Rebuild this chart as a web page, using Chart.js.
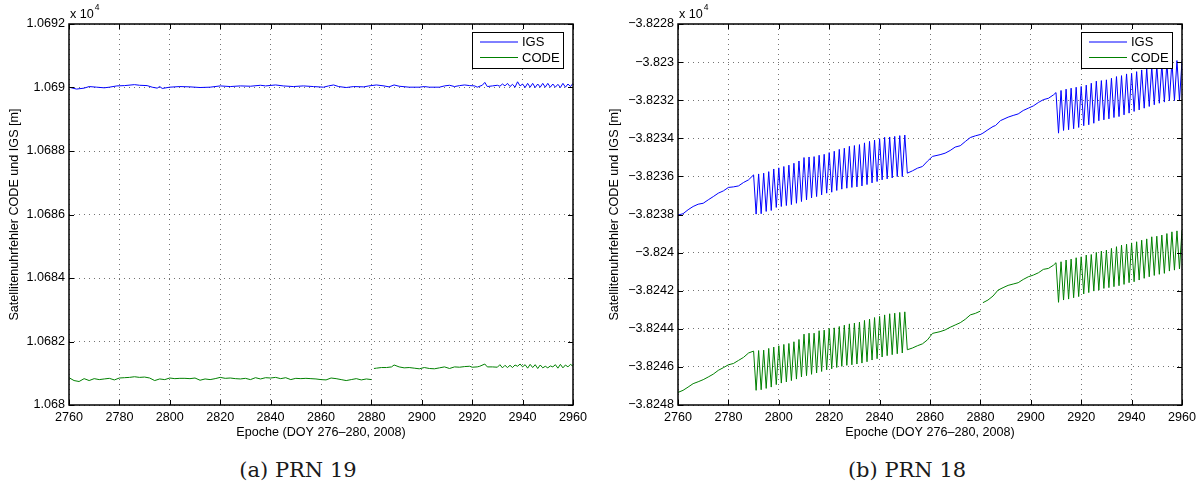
<!DOCTYPE html>
<html>
<head>
<meta charset="utf-8">
<script src="https://cdn.jsdelivr.net/npm/chart.js@4.4.1/dist/chart.umd.min.js"></script>
<style>
  body { margin: 0; background: #fff; }
  #wrap { position: relative; width: 1203px; height: 485px; overflow: hidden; }
  canvas { position: absolute; top: 0; }
  .caption {
    position: absolute; top: 457px; width: 600px; text-align: center;
    font-family: "DejaVu Serif", "Liberation Serif", serif; font-size: 21px; line-height: 26px; color: #1a1a1a;
  }
</style>
</head>
<body>
<div id="wrap">
  <canvas id="prn19" width="600" height="445" style="left:0"></canvas>
  <canvas id="prn18" width="603" height="445" style="left:600px"></canvas>
  <div class="caption" style="left:-2px">(a) PRN 19</div>
  <div class="caption" style="left:607px">(b) PRN 18</div>
</div>
<script>
// epochs (x) and clock errors in metres (y)
const xTicksMin = 2760, xTicksMax = 2960, xStep = 20;
const yTitle = "Satellitenuhrfehler CODE und IGS [m]";
const xTitle = "Epoche (DOY 276\u2013280, 2008)";

// PRN 19 - IGS
const prn19IgsEpochs = [2760, 2763, 2766, 2768, 2771, 2774, 2776, 2779, 2782, 2786, 2788, 2791, 2793, 2795, 2796, 2797,
  2800, 2804, 2808, 2812, 2816, 2820, 2824, 2828, 2832, 2836, 2838, 2842, 2845, 2849, 2853, 2857, 2861, 2863, 2865,
  2867, 2870, 2873, 2877, 2879, 2882, 2885, 2887, 2889, 2891, 2895, 2899, 2901, 2903, 2907, 2909, 2911, 2913, 2915,
  2917, 2919, 2921, 2922, 2924, 2925, 2926, 2928, 2930, 2931, 2932, 2933, 2934, 2935, 2936, 2937, 2938, 2939, 2940,
  2941, 2942, 2943, 2944, 2945, 2946, 2947, 2948, 2949, 2950, 2951, 2952, 2953, 2954, 2955, 2956, 2957, 2958, 2959, 2960];
const prn19IgsValues = [10690.01, 10689.95, 10689.98, 10690.03, 10690.01, 10689.99, 10690.01, 10690.05, 10690.06, 10690.09,
  10690.07, 10690.06, 10690.01, 10689.98, 10690.03, 10689.97, 10690.01, 10690.03, 10690.02, 10690.00, 10690.01, 10690.05,
  10690.03, 10690.05, 10690.04, 10690.07, 10690.05, 10690.08, 10690.05, 10690.03, 10690.05, 10690.03, 10690.01, 10690.05,
  10690.08, 10690.03, 10690.00, 10690.03, 10690.02, 10690.05, 10690.08, 10690.05, 10690.02, 10690.08, 10690.04, 10690.01,
  10690.01, 10690.03, 10690.01, 10690.01, 10690.05, 10690.07, 10690.03, 10690.06, 10690.08, 10690.06, 10690.05, 10690.01,
  10690.07, 10690.16, 10690.03, 10690.05, 10690.07, 10690.04, 10690.11, 10690.05, 10690.13, 10690.03, 10690.10, 10690.01,
  10690.18, 10690.05, 10690.11, 10690.00, 10690.13, 10690.01, 10690.13, 10690.00, 10690.11, 10690.01, 10690.13, 10690.01,
  10690.13, 10690.01, 10690.11, 10690.01, 10690.10, 10690.00, 10690.13, 10690.01, 10690.11, 10690.03, 10690.13];

// PRN 19 - CODE (gap after epoch 2880)
const prn19CodeEpochs = [2760, 2762, 2764, 2766, 2768, 2770, 2772, 2774, 2776, 2778, 2780, 2782, 2784, 2786, 2788, 2790,
  2792, 2794, 2796, 2798, 2800, 2802, 2804, 2806, 2808, 2810, 2812, 2814, 2816, 2818, 2820, 2822, 2824, 2826, 2828, 2830,
  2832, 2834, 2836, 2838, 2840, 2842, 2844, 2846, 2848, 2850, 2852, 2854, 2856, 2858, 2860, 2862, 2864, 2866, 2868, 2870,
  2872, 2874, 2876, 2878, 2880, 2880.5, 2881, 2882, 2884, 2886, 2888, 2889, 2891, 2893, 2895, 2897, 2899, 2901, 2903, 2905,
  2907, 2909, 2911, 2913, 2915, 2917, 2919, 2920, 2922, 2923, 2925, 2926, 2928, 2930, 2931, 2932, 2933, 2934, 2935, 2936,
  2937, 2938, 2939, 2940, 2941, 2942, 2943, 2944, 2945, 2946, 2947, 2948, 2949, 2950, 2951, 2952, 2953, 2954, 2955, 2956,
  2957, 2958, 2959, 2960];
const prn19CodeValues = [10680.86, 10680.77, 10680.74, 10680.83, 10680.77, 10680.83, 10680.80, 10680.82, 10680.84, 10680.79,
  10680.85, 10680.86, 10680.87, 10680.89, 10680.87, 10680.88, 10680.85, 10680.77, 10680.82, 10680.80, 10680.85, 10680.83,
  10680.84, 10680.84, 10680.83, 10680.85, 10680.78, 10680.82, 10680.80, 10680.83, 10680.87, 10680.84, 10680.85, 10680.83,
  10680.82, 10680.84, 10680.80, 10680.86, 10680.82, 10680.86, 10680.85, 10680.87, 10680.83, 10680.86, 10680.80, 10680.84,
  10680.83, 10680.84, 10680.83, 10680.82, 10680.80, 10680.79, 10680.85, 10680.83, 10680.80, 10680.77, 10680.80, 10680.83,
  10680.79, 10680.82, 10680.80, null, 10681.15, 10681.16, 10681.18, 10681.18, 10681.20, 10681.26, 10681.20, 10681.17,
  10681.18, 10681.16, 10681.14, 10681.18, 10681.15, 10681.14, 10681.17, 10681.20, 10681.15, 10681.20, 10681.19, 10681.21,
  10681.22, 10681.19, 10681.20, 10681.22, 10681.29, 10681.20, 10681.20, 10681.19, 10681.27, 10681.17, 10681.25, 10681.18,
  10681.25, 10681.18, 10681.26, 10681.22, 10681.29, 10681.20, 10681.27, 10681.16, 10681.28, 10681.18, 10681.27, 10681.15,
  10681.26, 10681.17, 10681.22, 10681.17, 10681.23, 10681.20, 10681.27, 10681.16, 10681.28, 10681.17, 10681.26, 10681.20,
  10681.28, 10681.22];

// PRN 18 - IGS
const prn18IgsEpochs = [2760, 2762, 2764, 2766, 2768, 2770, 2772, 2774, 2776, 2778, 2780, 2782, 2784, 2786, 2788, 2790,
  2791, 2792, 2793, 2794, 2795, 2796, 2797, 2798, 2799, 2800, 2801, 2802, 2803, 2804, 2805, 2806, 2807, 2808, 2809, 2810,
  2811, 2812, 2813, 2814, 2815, 2816, 2817, 2818, 2819, 2820, 2821, 2822, 2823, 2824, 2825, 2826, 2827, 2828, 2829, 2830,
  2831, 2832, 2833, 2834, 2835, 2836, 2837, 2838, 2839, 2840, 2841, 2842, 2843, 2844, 2845, 2846, 2847, 2848, 2849, 2850,
  2851, 2853, 2855, 2857, 2859, 2861, 2864, 2866, 2868, 2870, 2872, 2874, 2876, 2878, 2880, 2881, 2883, 2885, 2886, 2888,
  2891, 2893, 2895, 2897, 2899, 2901, 2903, 2905, 2907, 2909, 2910,
  2911, 2912, 2913, 2914, 2915, 2916, 2917, 2918, 2919, 2920, 2921, 2922, 2923, 2924, 2925, 2926, 2927, 2928, 2929, 2930,
  2931, 2932, 2933, 2934, 2935, 2936, 2937, 2938, 2939, 2940, 2941, 2942, 2943, 2944, 2945, 2946, 2947, 2948, 2949, 2950,
  2951, 2952, 2953, 2954, 2955, 2956, 2957, 2958, 2959, 2960];
const prn18IgsValues = [-38238.03, -38237.96, -38237.75, -38237.58, -38237.46, -38237.41, -38237.23, -38237.06, -38236.88,
  -38236.76, -38236.58, -38236.55, -38236.50, -38236.32, -38236.18, -38235.92,
  -38237.98, -38235.87, -38237.96, -38235.83, -38237.84, -38235.75, -38237.79, -38235.61, -38237.63, -38235.55,
  -38237.58, -38235.48, -38237.53, -38235.41, -38237.48, -38235.31, -38237.41, -38235.19, -38237.32, -38235.01,
  -38237.23, -38234.98, -38237.13, -38234.96, -38237.06, -38234.89, -38236.97, -38234.84, -38236.88, -38234.75,
  -38236.83, -38234.68, -38236.74, -38234.58, -38236.67, -38234.52, -38236.62, -38234.42, -38236.58, -38234.38,
  -38236.55, -38234.33, -38236.50, -38234.24, -38236.43, -38234.16, -38236.34, -38234.09, -38236.27, -38234.02,
  -38236.18, -38233.95, -38236.13, -38233.93, -38236.08, -38233.90, -38236.01, -38233.86, -38236.01, -38233.83,
  -38235.83, -38235.71, -38235.57, -38235.48, -38235.20, -38234.95, -38234.86, -38234.78, -38234.64, -38234.46,
  -38234.39, -38234.17, -38233.96, -38233.87, -38233.80, -38233.73, -38233.55, -38233.38, -38233.33, -38233.07,
  -38232.89, -38232.80, -38232.72, -38232.54, -38232.42, -38232.30, -38232.12, -38231.97, -38231.90, -38231.72, -38231.60,
  -38233.73, -38231.49, -38233.59, -38231.42, -38233.55, -38231.37, -38233.50, -38231.32, -38233.43, -38231.28,
  -38233.34, -38231.21, -38233.29, -38231.11, -38233.21, -38231.00, -38233.08, -38230.97, -38233.03, -38230.93,
  -38232.98, -38230.85, -38232.91, -38230.76, -38232.86, -38230.71, -38232.77, -38230.62, -38232.68, -38230.59,
  -38232.59, -38230.50, -38232.51, -38230.41, -38232.42, -38230.32, -38232.33, -38230.24, -38232.24, -38230.18,
  -38232.16, -38230.10, -38232.10, -38230.03, -38232.03, -38229.97, -38232.02, -38229.92, -38232.02, -38229.92];

// PRN 18 - CODE (gap after epoch 2880)
const prn18CodeEpochs = [2760, 2762, 2764, 2766, 2768, 2770, 2772, 2774, 2776, 2778, 2780, 2782, 2784, 2786, 2788, 2790,
  2791, 2792, 2793, 2794, 2795, 2796, 2797, 2798, 2799, 2800, 2801, 2802, 2803, 2804, 2805, 2806, 2807, 2808, 2809, 2810,
  2811, 2812, 2813, 2814, 2815, 2816, 2817, 2818, 2819, 2820, 2821, 2822, 2823, 2824, 2825, 2826, 2827, 2828, 2829, 2830,
  2831, 2832, 2833, 2834, 2835, 2836, 2837, 2838, 2839, 2840, 2841, 2842, 2843, 2844, 2845, 2846, 2847, 2848, 2849, 2850,
  2851, 2853, 2855, 2857, 2859, 2860, 2861, 2864, 2866, 2868, 2870, 2872, 2874, 2876, 2878, 2880, 2880.5, 2881, 2883, 2885,
  2887, 2889, 2891, 2893, 2895, 2897, 2899, 2901, 2903, 2905, 2907, 2909, 2910,
  2911, 2912, 2913, 2914, 2915, 2916, 2917, 2918, 2919, 2920, 2921, 2922, 2923, 2924, 2925, 2926, 2927, 2928, 2929, 2930,
  2931, 2932, 2933, 2934, 2935, 2936, 2937, 2938, 2939, 2940, 2941, 2942, 2943, 2944, 2945, 2946, 2947, 2948, 2949, 2950,
  2951, 2952, 2953, 2954, 2955, 2956, 2957, 2958, 2959, 2960];
const prn18CodeValues = [-38247.34, -38247.23, -38247.06, -38246.88, -38246.78, -38246.67, -38246.53, -38246.38, -38246.18,
  -38246.04, -38245.89, -38245.82, -38245.66, -38245.50, -38245.27, -38245.17,
  -38247.23, -38245.14, -38247.20, -38245.12, -38247.13, -38245.03, -38247.06, -38244.96, -38246.93, -38244.89,
  -38246.85, -38244.82, -38246.79, -38244.77, -38246.72, -38244.68, -38246.64, -38244.56, -38246.53, -38244.28,
  -38246.46, -38244.23, -38246.39, -38244.23, -38246.32, -38244.10, -38246.24, -38244.07, -38246.15, -38243.98,
  -38246.10, -38243.95, -38246.03, -38243.88, -38245.97, -38243.81, -38245.92, -38243.74, -38245.89, -38243.70,
  -38245.85, -38243.65, -38245.80, -38243.56, -38245.73, -38243.49, -38245.64, -38243.41, -38245.57, -38243.35,
  -38245.48, -38243.27, -38245.41, -38243.21, -38245.36, -38243.18, -38245.31, -38243.14, -38245.27, -38243.11,
  -38245.10, -38245.01, -38244.89, -38244.79, -38244.58, -38244.41, -38244.24, -38244.15, -38244.06, -38243.92,
  -38243.80, -38243.68, -38243.50, -38243.27, -38243.19, -38243.07, null, -38242.63, -38242.49, -38242.28,
  -38241.97, -38241.84, -38241.72, -38241.65, -38241.58, -38241.41, -38241.27, -38241.18, -38241.06, -38240.88,
  -38240.83, -38240.66, -38240.53,
  -38242.61, -38240.48, -38242.49, -38240.39, -38242.44, -38240.34, -38242.37, -38240.27, -38242.31, -38240.22,
  -38242.17, -38240.13, -38242.10, -38240.10, -38242.02, -38239.99, -38241.97, -38239.92, -38241.88, -38239.87,
  -38241.84, -38239.78, -38241.79, -38239.69, -38241.74, -38239.61, -38241.67, -38239.56, -38241.58, -38239.49,
  -38241.53, -38239.43, -38241.44, -38239.35, -38241.35, -38239.28, -38241.27, -38239.17, -38241.20, -38239.14,
  -38241.14, -38239.08, -38241.09, -38239.00, -38240.97, -38238.91, -38240.92, -38238.86, -38240.86, -38238.82];

const seriesLabels = ["IGS", "CODE"];
const seriesColors = ["#0000ff", "#008000"];

Chart.defaults.font.family = "'Liberation Sans', Arial, sans-serif";
Chart.defaults.font.size = 12.6;
Chart.defaults.color = "#000";

const toPoints = (xs, ys) => xs.map((x, i) => ({x: x, y: ys[i]}));

// tick labels in units of 1e4, like MATLAB's "x 10^4" axis
const scaledTick = v => parseFloat((v / 1e4).toFixed(5)).toString().replace("-", "\u2212");

// box, inward ticks, exponent and legend the MATLAB way
const matlabAxes = {
    id: "matlabAxes",
    afterDraw(chart) {
        const {ctx, chartArea: a} = chart;
        const xs = chart.scales.x, ys = chart.scales.y;
        ctx.save();
        ctx.strokeStyle = "#000";
        ctx.lineWidth = 1;
        ctx.beginPath();
        xs.ticks.forEach(t => {
            const px = Math.round(xs.getPixelForValue(t.value)) + 0.5;
            ctx.moveTo(px, a.bottom); ctx.lineTo(px, a.bottom - 5);
            ctx.moveTo(px, a.top); ctx.lineTo(px, a.top + 5);
        });
        ys.ticks.forEach(t => {
            const py = Math.round(ys.getPixelForValue(t.value)) + 0.5;
            ctx.moveTo(a.left, py); ctx.lineTo(a.left + 5, py);
            ctx.moveTo(a.right, py); ctx.lineTo(a.right - 5, py);
        });
        ctx.stroke();
        ctx.lineWidth = 1.5;
        ctx.strokeRect(a.left, a.top, a.right - a.left, a.bottom - a.top);

        // exponent label
        ctx.fillStyle = "#000";
        ctx.textBaseline = "alphabetic";
        ctx.textAlign = "left";
        ctx.font = "12.6px 'Liberation Sans', Arial, sans-serif";
        ctx.fillText("x 10", a.left + 1, a.top - 6);
        const w = ctx.measureText("x 10").width;
        ctx.font = "8.5px 'Liberation Sans', Arial, sans-serif";
        ctx.fillText("4", a.left + 1 + w + 1, a.top - 14);

        // legend
        const bw = 91, bh = 36;
        const bx = a.right - 10 - bw, by = a.top + 8;
        ctx.fillStyle = "#fff";
        ctx.fillRect(bx, by, bw, bh);
        ctx.lineWidth = 1;
        ctx.strokeStyle = "#000";
        ctx.strokeRect(bx + 0.5, by + 0.5, bw, bh);
        ctx.font = "13px 'Liberation Sans', Arial, sans-serif";
        ctx.textBaseline = "middle";
        chart.data.datasets.forEach((ds, i) => {
            const ly = by + 10 + i * 15.5;
            ctx.strokeStyle = ds.borderColor;
            ctx.beginPath();
            ctx.moveTo(bx + 8, ly); ctx.lineTo(bx + 46, ly);
            ctx.stroke();
            ctx.fillStyle = "#000";
            ctx.fillText(ds.label, bx + 50, ly + 0.5);
        });
        ctx.restore();
    }
};

function makePanel(canvasId, igsPts, codePts, yMin, yMax, yAxisWidth, rightPad) {
    return new Chart(document.getElementById(canvasId), {
        type: "line",
        data: {
            datasets: [igsPts, codePts].map((pts, i) => ({
                label: seriesLabels[i],
                data: pts,
                borderColor: seriesColors[i],
                borderWidth: 1,
                pointRadius: 0,
                tension: 0,
                spanGaps: false
            }))
        },
        options: {
            responsive: false,
            animation: false,
            devicePixelRatio: 1,
            layout: {padding: {left: 0, top: 24, right: rightPad, bottom: 0}},
            scales: {
                x: {
                    type: "linear",
                    min: xTicksMin,
                    max: xTicksMax,
                    afterFit: s => { s.height = 40; },
                    border: {display: false, dash: [1, 4]},
                    grid: {color: "rgba(0,0,0,0.55)", drawTicks: false, lineWidth: 1},
                    ticks: {stepSize: xStep, padding: 5, maxRotation: 0, callback: v => String(v)},
                    title: {display: true, text: xTitle, padding: {top: 0, bottom: 5}}
                },
                y: {
                    type: "linear",
                    min: yMin,
                    max: yMax,
                    afterFit: s => { s.width = yAxisWidth; },
                    border: {display: false, dash: [1, 4]},
                    grid: {color: "rgba(0,0,0,0.55)", drawTicks: false, lineWidth: 1},
                    ticks: {stepSize: 2, padding: 4, callback: scaledTick},
                    title: {display: true, text: yTitle, padding: {top: 7, bottom: 0}}
                }
            },
            plugins: {
                legend: {display: false},
                tooltip: {enabled: false}
            }
        },
        plugins: [matlabAxes]
    });
}

makePanel("prn19", toPoints(prn19IgsEpochs, prn19IgsValues), toPoints(prn19CodeEpochs, prn19CodeValues),
    10680, 10692, 69, 27);
makePanel("prn18", toPoints(prn18IgsEpochs, prn18IgsValues), toPoints(prn18CodeEpochs, prn18CodeValues),
    -38248, -38228, 78, 21);
</script>
</body>
</html>
